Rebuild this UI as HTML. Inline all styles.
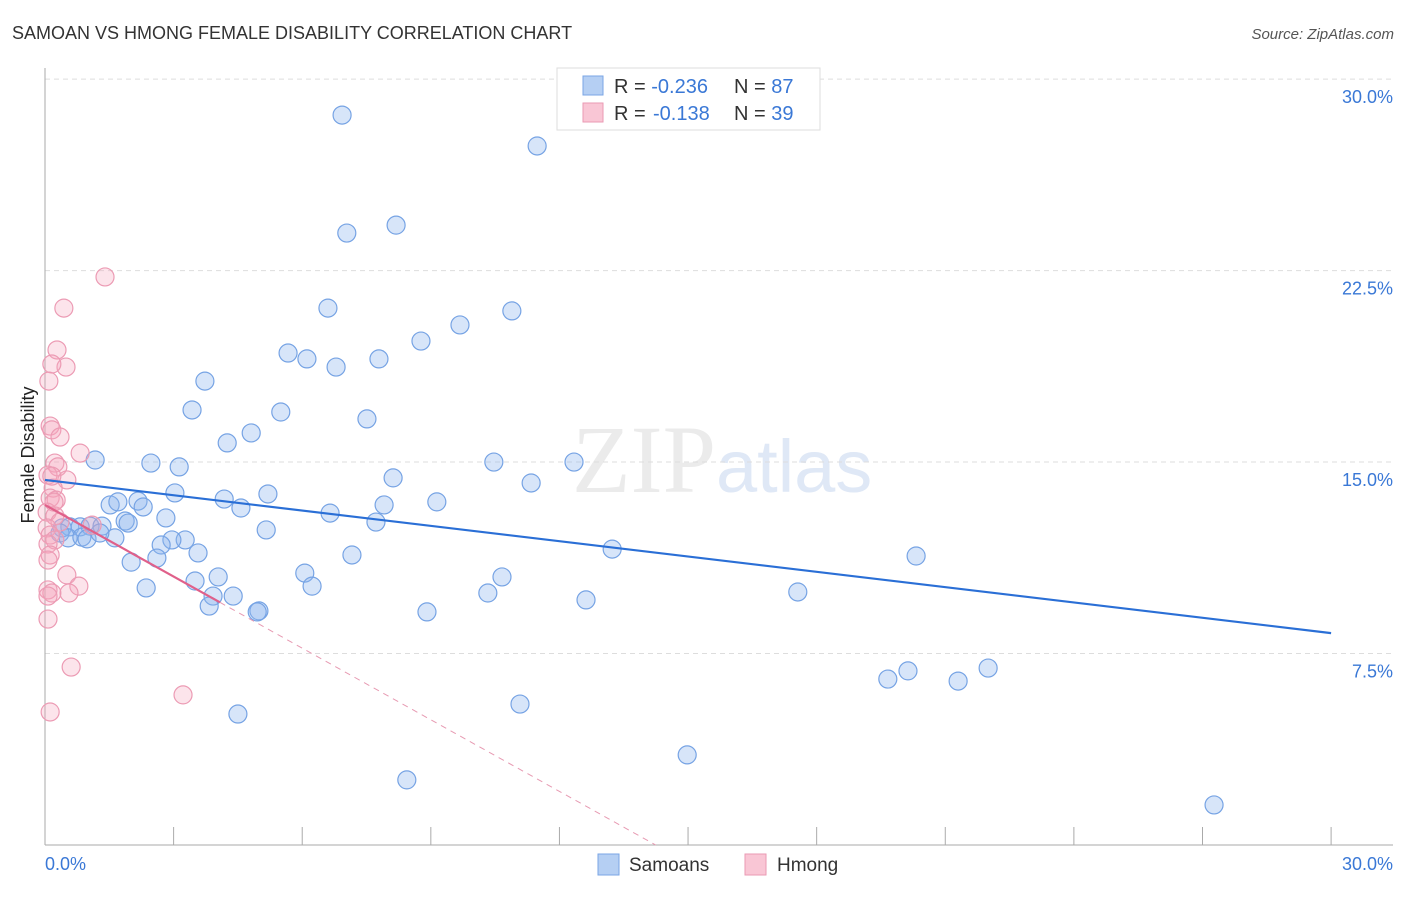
<!DOCTYPE html>
<html><head><meta charset="utf-8"><style>
body{margin:0;background:#fff;font-family:"Liberation Sans",sans-serif}
#c{position:relative;width:1406px;height:892px}
</style></head><body>
<div id="c">
<svg width="1406" height="892" xmlns="http://www.w3.org/2000/svg" id="svg">
<text x="12" y="39" font-size="18" fill="#333">SAMOAN VS HMONG FEMALE DISABILITY CORRELATION CHART</text>
<text x="1394" y="39" font-size="15" fill="#555" font-style="italic" text-anchor="end">Source: ZipAtlas.com</text>
<text x="716" y="492" font-size="96" fill="#ebebeb" text-anchor="end" font-family="Liberation Serif">ZIP</text>
<text x="716" y="492" font-size="74" fill="#dfe8f6">atlas</text>
<text x="34" y="455" font-size="18" fill="#222" text-anchor="middle" transform="rotate(-90 34 455)">Female Disability</text>
<g id="grid"></g><g id="marks"></g>
<g>
<rect x="557" y="68" width="263" height="62" fill="#fff" stroke="#ddd"/>
<rect x="583" y="76" width="20" height="19" fill="#b5cff3" stroke="#7aa5e5"/>
<rect x="583" y="103" width="20" height="19" fill="#f9c6d5" stroke="#ea9ab3"/>
<text x="614" y="93" font-size="20" fill="#333">R = <tspan fill="#3a78d6">-0.236</tspan><tspan x="734">N = </tspan><tspan fill="#3a78d6">87</tspan></text>
<text x="614" y="120" font-size="20" fill="#333">R = <tspan fill="#3a78d6" x="653">-0.138</tspan><tspan x="734">N = </tspan><tspan fill="#3a78d6">39</tspan></text>
</g>
<g>
<rect x="598" y="854" width="21" height="21" fill="#b5cff3" stroke="#7aa5e5"/>
<text x="629" y="871" font-size="19" fill="#333">Samoans</text>
<rect x="745" y="854" width="21" height="21" fill="#f9c6d5" stroke="#ea9ab3"/>
<text x="777" y="871" font-size="19" fill="#333">Hmong</text>
</g>
</svg></div>
<script>
const blueX=[6.93,11.48,7.04,8.19,6.60,10.89,9.68,8.77,5.67,6.11,6.79,7.79,3.73,3.43,5.50,7.51,4.81,4.25,1.17,2.47,3.13,10.47,12.34,8.12,11.34,3.03,5.20,4.18,9.14,7.91,4.57,1.52,1.70,2.17,2.29,6.65,7.72,2.82,1.87,1.94,5.16,0.40,0.58,0.82,1.05,1.33,0.35,0.54,0.86,0.98,1.63,1.28,3.27,2.96,2.71,3.57,13.23,20.32,7.16,2.01,2.61,6.06,4.04,3.50,10.66,6.23,2.36,4.39,3.92,10.33,17.56,3.83,4.99,4.95,12.62,8.91,19.66,20.13,21.30,22.00,11.08,4.50,14.98,8.44,27.27];
const blueY=[28.59,27.38,23.97,24.28,21.03,20.92,20.37,19.74,19.27,19.04,18.72,19.04,18.17,17.04,16.96,16.69,16.14,15.75,15.08,14.96,14.81,15.00,15.00,14.38,14.18,13.79,13.75,13.55,13.44,13.32,13.20,13.32,13.44,13.47,13.24,13.00,12.65,12.81,12.69,12.61,12.34,12.42,12.46,12.46,12.49,12.49,12.22,12.03,12.06,11.99,12.03,12.22,11.95,11.95,11.75,11.44,11.59,11.32,11.36,11.08,11.24,10.65,10.50,10.34,10.50,10.14,10.07,9.75,9.75,9.87,9.91,9.36,9.17,9.13,9.60,9.13,6.50,6.82,6.42,6.93,5.52,5.13,3.53,2.55,1.57];
const pinkX=[1.40,0.44,0.28,0.49,0.16,0.09,0.12,0.16,0.35,0.82,0.23,0.30,0.07,0.51,0.19,0.12,0.26,0.05,0.23,0.35,1.10,0.05,0.12,0.23,0.07,0.12,0.07,0.51,0.79,0.56,0.07,0.16,0.07,0.07,0.61,3.22,0.12,0.16,0.21];
const pinkY=[22.25,21.03,19.39,18.72,18.84,18.17,16.41,16.26,15.98,15.35,14.96,14.81,14.49,14.30,13.98,13.59,13.51,13.04,12.89,12.65,12.53,12.42,12.14,11.95,11.79,11.36,11.16,10.58,10.14,9.87,9.99,9.87,9.75,8.85,6.97,5.88,5.21,14.45,13.43];
const yTicks=[7.5,15,22.5,30];
const yTickLabels=["7.5%","15.0%","22.5%","30.0%"];
const xTicks=[0,3,6,9,12,15,18,21,24,27,30];
const blueTrend=[14.30,8.30];
const pinkTrend=[13.32,-0.935,4.08];
const NS="http://www.w3.org/2000/svg";
const X=v=>45+v*42.87, Y=v=>845-v*25.53;
function mk(p,t,a){const e=document.createElementNS(NS,t);for(const k in a)e.setAttribute(k,a[k]);p.appendChild(e);return e;}
const g=document.getElementById('grid'),m=document.getElementById('marks');
yTicks.forEach((t,i)=>{
 const l=mk(g,'line',{x1:45,x2:1393,y1:Y(t),y2:Y(t),stroke:'#ddd','stroke-dasharray':'5,4'});
 
 
 const tx=mk(g,'text',{x:1393,y:Y(t)+24,'font-size':18,fill:'#3a78d6','text-anchor':'end'});
 tx.textContent=yTickLabels[i];
 
 
});
mk(g,'line',{x1:45,x2:45,y1:68,y2:845,stroke:'#aaa'});
mk(g,'line',{x1:45,x2:1393,y1:845,y2:845,stroke:'#aaa'});
xTicks.forEach(t=>{const l=mk(g,'line',{x1:X(t),x2:X(t),y1:827,y2:845,stroke:'#aaa'});
 
 });
const xl0=mk(g,'text',{x:45,y:870,'font-size':18,fill:'#3a78d6'});xl0.textContent='0.0%';


const xl1=mk(g,'text',{x:1393,y:870,'font-size':18,fill:'#3a78d6','text-anchor':'end'});xl1.textContent='30.0%';


blueX.forEach((x,i)=>{const c=mk(m,'circle',{cx:X(x),cy:Y(blueY[i]),r:9,fill:'rgba(140,180,238,0.35)',stroke:'#76a3e4','stroke-width':1.2});
 
 });
pinkX.forEach((x,i)=>{const c=mk(m,'circle',{cx:X(x),cy:Y(pinkY[i]),r:9,fill:'rgba(245,165,190,0.3)',stroke:'#ec9bb4','stroke-width':1.2});
 
 });
const bl=mk(m,'line',{x1:X(0),y1:Y(blueTrend[0]),x2:X(30),y2:Y(blueTrend[1]),stroke:'#2a6fd6','stroke-width':2.2});


const pe=pinkTrend[2], pz=-pinkTrend[0]/pinkTrend[1];
const ps=mk(m,'line',{x1:X(0),y1:Y(pinkTrend[0]),x2:X(pe),y2:Y(pinkTrend[0]+pinkTrend[1]*pe),stroke:'#e0608a','stroke-width':2.2});


const pd=mk(m,'line',{x1:X(pe),y1:Y(pinkTrend[0]+pinkTrend[1]*pe),x2:X(pz),y2:Y(0),stroke:'#e79ab2','stroke-width':1,'stroke-dasharray':'6,5'});


</script>
</body></html>
